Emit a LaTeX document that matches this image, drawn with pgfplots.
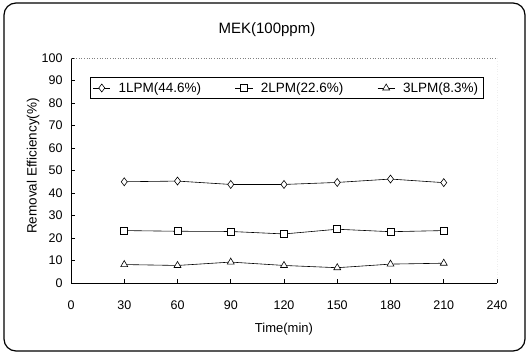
\documentclass[border=0pt]{standalone}
\usepackage{pgfplots}
\pgfplotsset{compat=1.18}
\usepackage{fontspec}
\setmainfont{Liberation Sans}
\begin{document}
\begin{tikzpicture}[x=1pt,y=1pt]
\path (0,0) rectangle (529,354);
\draw[line width=1.2pt, rounded corners=12pt] (4,3) rectangle (525,351);
\begin{axis}[
  at={(71pt,71pt)}, anchor=south west, scale only axis,
  width=426pt, height=225pt,
  xmin=0, xmax=240, ymin=0, ymax=100,
  xtick={0,30,...,240}, ytick={0,10,...,100},
  axis line style={draw=none},
  tick align=inside, xtick pos=left, ytick pos=left,
  major tick length=4pt,
  tick style={black, line width=0.6pt},
  /pgf/number format/assume math mode=true,
  tick label style={font=\fontsize{12.5}{14}\selectfont},
  xticklabel style={yshift=-14pt},
  yticklabel style={xshift=-5pt},
  title={MEK(100ppm)},
  title style={font=\fontsize{15}{18}\selectfont, at={(axis description cs:0.46,1.1)}, anchor=center},
  xlabel={Time(min)},
  xlabel style={font=\fontsize{13}{15}\selectfont, at={(axis description cs:0.5,-0.205)}, anchor=center},
  ylabel={Removal Efficiency(\%)},
  ylabel style={font=\fontsize{13.5}{15}\selectfont, at={(axis description cs:-0.089,0.52)}, anchor=center},
  legend columns=3,
  legend style={at={(axis cs:10.5,81.8)}, anchor=south west, draw=black, line width=0.6pt,
    font=\fontsize{13.5}{15}\selectfont, inner sep=3pt,
    /tikz/every odd column/.append style={column sep=6pt},
    /tikz/every even column/.append style={column sep=32pt}},
  every axis plot/.append style={black, line width=0.6pt, mark options={fill=white, solid}},
]
\addplot[mark=diamond*, mark size=4pt] coordinates {(30,45.0) (60,45.3) (90,43.8) (120,43.8) (150,44.7) (180,46.2) (210,44.6)};
\addlegendentry{1LPM(44.6\%)}
\addplot[mark=square*, mark size=3.5pt] coordinates {(30,23.3) (60,23.0) (90,22.9) (120,21.8) (150,23.9) (180,22.8) (210,23.3)};
\addlegendentry{2LPM(22.6\%)}
\addplot[mark=triangle*, mark size=4pt] coordinates {(30,8.2) (60,7.8) (90,9.3) (120,7.8) (150,6.8) (180,8.4) (210,8.8)};
\addlegendentry{3LPM(8.3\%)}
\draw[black, line width=0.8pt] (rel axis cs:0,1) -- (rel axis cs:0,0) -- (rel axis cs:1,0);
\draw[gray, dotted, line width=0.6pt] (rel axis cs:0,1) -- (rel axis cs:1,1) -- (rel axis cs:1,0);
\end{axis}
\end{tikzpicture}
\end{document}
